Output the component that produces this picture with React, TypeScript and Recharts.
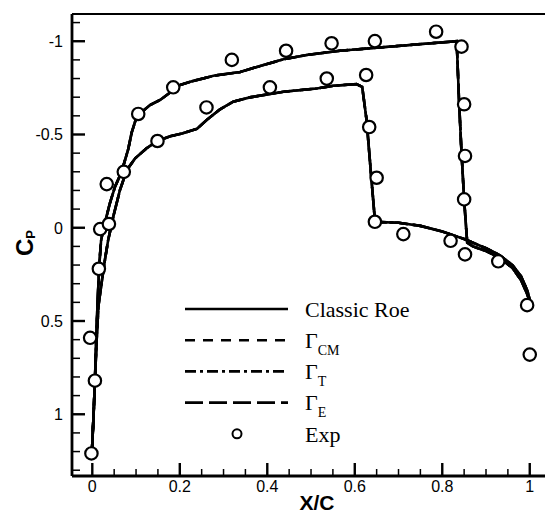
import React from "react";
import { ComposedChart, Line, Scatter, XAxis, YAxis, Legend, Label } from "recharts";

type Pt = { x: number; cp: number };

// upper surface, leading edge -> trailing edge
const upperSurface: Pt[] = [
  { x: -0.001, cp: 1.21 },
  { x: 0.003, cp: 1.0 },
  { x: 0.006, cp: 0.82 },
  { x: 0.009, cp: 0.6 },
  { x: 0.012, cp: 0.4 },
  { x: 0.016, cp: 0.2 },
  { x: 0.02, cp: 0.07 },
  { x: 0.025, cp: 0.01 },
  { x: 0.04, cp: -0.13 },
  { x: 0.052, cp: -0.22 },
  { x: 0.067, cp: -0.3 },
  { x: 0.082, cp: -0.42 },
  { x: 0.09, cp: -0.51 },
  { x: 0.098, cp: -0.57 },
  { x: 0.109, cp: -0.613 },
  { x: 0.132, cp: -0.658 },
  { x: 0.155, cp: -0.685 },
  { x: 0.178, cp: -0.725 },
  { x: 0.2, cp: -0.765 },
  { x: 0.224, cp: -0.783 },
  { x: 0.277, cp: -0.815 },
  { x: 0.338, cp: -0.835 },
  { x: 0.376, cp: -0.862 },
  { x: 0.437, cp: -0.903 },
  { x: 0.49, cp: -0.926 },
  { x: 0.566, cp: -0.949 },
  { x: 0.635, cp: -0.962 },
  { x: 0.726, cp: -0.98 },
  { x: 0.833, cp: -1.0 },
  { x: 0.838, cp: -0.7 },
  { x: 0.843, cp: -0.45 },
  { x: 0.85, cp: -0.15 },
  { x: 0.857, cp: 0.08 },
  { x: 0.87, cp: 0.1 },
  { x: 0.9, cp: 0.125 },
  { x: 0.93, cp: 0.158 },
  { x: 0.96, cp: 0.215 },
  { x: 0.98, cp: 0.28 },
  { x: 0.995, cp: 0.36 },
  { x: 1.0, cp: 0.4 },
];

// lower surface, leading edge -> trailing edge
const lowerSurface: Pt[] = [
  { x: -0.001, cp: 1.21 },
  { x: 0.003, cp: 1.0 },
  { x: 0.006, cp: 0.82 },
  { x: 0.01, cp: 0.6 },
  { x: 0.014, cp: 0.42 },
  { x: 0.021, cp: 0.3 },
  { x: 0.029, cp: 0.17 },
  { x: 0.036, cp: 0.07 },
  { x: 0.048, cp: -0.06 },
  { x: 0.063, cp: -0.2 },
  { x: 0.079, cp: -0.31 },
  { x: 0.098, cp: -0.372 },
  { x: 0.124, cp: -0.426 },
  { x: 0.149, cp: -0.465 },
  { x: 0.178, cp: -0.49 },
  { x: 0.205, cp: -0.505 },
  { x: 0.239, cp: -0.53 },
  { x: 0.265, cp: -0.585 },
  { x: 0.292, cp: -0.635 },
  { x: 0.322, cp: -0.676 },
  { x: 0.36, cp: -0.699 },
  { x: 0.437, cp: -0.729 },
  { x: 0.513, cp: -0.747 },
  { x: 0.551, cp: -0.761 },
  { x: 0.604, cp: -0.77 },
  { x: 0.617, cp: -0.755 },
  { x: 0.627, cp: -0.577 },
  { x: 0.636, cp: -0.32 },
  { x: 0.646, cp: -0.04 },
  { x: 0.66, cp: -0.03 },
  { x: 0.7, cp: -0.027 },
  { x: 0.75, cp: -0.01 },
  { x: 0.8, cp: 0.02 },
  { x: 0.85, cp: 0.06 },
  { x: 0.9, cp: 0.11 },
  { x: 0.93, cp: 0.145 },
  { x: 0.96, cp: 0.2 },
  { x: 0.98, cp: 0.26 },
  { x: 0.995, cp: 0.34 },
  { x: 1.0, cp: 0.39 },
];

const experiment: Pt[] = [
  { x: -0.002, cp: 1.21 },
  { x: 0.006, cp: 0.82 },
  { x: -0.005, cp: 0.59 },
  { x: 0.015, cp: 0.22 },
  { x: 0.018, cp: 0.007 },
  { x: 0.038, cp: -0.02 },
  { x: 0.033, cp: -0.234 },
  { x: 0.072, cp: -0.3 },
  { x: 0.105, cp: -0.61 },
  { x: 0.149, cp: -0.465 },
  { x: 0.185, cp: -0.753 },
  { x: 0.261, cp: -0.645 },
  { x: 0.319, cp: -0.9 },
  { x: 0.406, cp: -0.753 },
  { x: 0.443, cp: -0.949 },
  { x: 0.536, cp: -0.8 },
  { x: 0.547, cp: -0.989 },
  { x: 0.626, cp: -0.819 },
  { x: 0.646, cp: -1.001 },
  { x: 0.633, cp: -0.54 },
  { x: 0.65, cp: -0.268 },
  { x: 0.646, cp: -0.032 },
  { x: 0.711, cp: 0.034 },
  { x: 0.786, cp: -1.051 },
  { x: 0.819, cp: 0.07 },
  { x: 0.844, cp: -0.971 },
  { x: 0.85, cp: -0.662 },
  { x: 0.852, cp: -0.385 },
  { x: 0.85, cp: -0.152 },
  { x: 0.852, cp: 0.143 },
  { x: 0.928, cp: 0.18 },
  { x: 0.994, cp: 0.415 },
  { x: 1.0, cp: 0.68 },
];

const xMajorTicks = [0, 0.2, 0.4, 0.6, 0.8, 1];
const xMinorTicks = [0.05, 0.1, 0.15, 0.25, 0.3, 0.35, 0.45, 0.5, 0.55, 0.65, 0.7, 0.75, 0.85, 0.9, 0.95];
const yMajorTicks = [-1, -0.5, 0, 0.5, 1];
const yMinorTicks = [
  -1.1, -0.9, -0.8, -0.7, -0.6, -0.4, -0.3, -0.2, -0.1, 0.1, 0.2, 0.3, 0.4, 0.6, 0.7, 0.8, 0.9, 1.1, 1.2, 1.3,
];

const schemes = [
  { key: "roe", name: "Classic Roe", sub: "", dash: undefined as string | undefined },
  { key: "cm", name: "\u0393", sub: "CM", dash: "10 8" },
  { key: "t", name: "\u0393", sub: "T", dash: "11 4 3 4" },
  { key: "e", name: "\u0393", sub: "E", dash: "18 6" },
];
const expLabel = "Exp";

const W = 575;
const H = 521;
const LEFT = 72;
const TOP = 14;
const BOTTOM = 476;
const SANS = "Liberation Sans, Arial, sans-serif";
const SERIF = "Liberation Serif, Times New Roman, serif";

function YTick(props: any) {
  const { y, payload } = props;
  const major = yMajorTicks.includes(payload.value);
  return (
    <g>
      <line x1={LEFT} x2={LEFT + (major ? 13 : 8)} y1={y} y2={y} stroke="#000" strokeWidth={major ? 2.4 : 1.5} />
      {major && (
        <text x={LEFT - 9} y={y + 6} textAnchor="end" fill="#000" style={{ fontSize: 16, fontFamily: SANS }}>
          {String(payload.value)}
        </text>
      )}
    </g>
  );
}

function XTick(props: any) {
  const { x, payload } = props;
  const major = xMajorTicks.includes(payload.value);
  return (
    <g>
      <line x1={x} x2={x} y1={BOTTOM} y2={BOTTOM - (major ? 13 : 7)} stroke="#000" strokeWidth={major ? 2.4 : 1.5} />
      {major && (
        <text x={x} y={BOTTOM + 16} textAnchor="middle" fill="#000" style={{ fontSize: 16, fontFamily: SANS }}>
          {String(payload.value)}
        </text>
      )}
    </g>
  );
}

function SchemeLegend() {
  const x1 = 185;
  const x2 = 288;
  const tx = 305;
  const rowY = (i: number) => 309 + i * 31.2;
  return (
    <svg width={545} height={521} style={{ display: "block" }}>
      {schemes.map((s, i) => (
        <g key={s.key}>
          <line x1={x1} x2={x2} y1={rowY(i)} y2={rowY(i)} stroke="#000" strokeWidth={2.6} strokeDasharray={s.dash} />
          <text x={tx} y={rowY(i) + 7.5} fill="#000" style={{ fontSize: 22, fontFamily: SERIF }}>
            {s.name}
            {s.sub && (
              <tspan dy={7} style={{ fontSize: 14 }}>
                {s.sub}
              </tspan>
            )}
          </text>
        </g>
      ))}
      <circle cx={237} cy={rowY(4)} r={4.5} fill="#fff" stroke="#000" strokeWidth={2} />
      <text x={tx} y={rowY(4) + 8} fill="#000" style={{ fontSize: 22, fontFamily: SERIF }}>
        {expLabel}
      </text>
    </svg>
  );
}

export default function App() {
  return (
    <div style={{ position: "absolute", left: 0, top: 0, width: 545, height: 521, overflow: "hidden", background: "#fff" }}>
      <ComposedChart width={W} height={H} margin={{ top: TOP - 2, right: 19, bottom: H - BOTTOM - 30, left: 12 }}>
        <XAxis
          xAxisId="top"
          orientation="top"
          type="number"
          dataKey="x"
          domain={[-0.0464, 1.06]}
          allowDataOverflow
          height={2}
          tick={false}
          tickLine={false}
          axisLine={{ stroke: "#000", strokeWidth: 2 }}
        />
        <XAxis
          type="number"
          dataKey="x"
          domain={[-0.0464, 1.06]}
          allowDataOverflow
          height={30}
          ticks={[...xMajorTicks, ...xMinorTicks]}
          interval={0}
          tick={<XTick />}
          tickLine={false}
          axisLine={{ stroke: "#000", strokeWidth: 2.8 }}
        >
          <Label
            content={() => (
              <text x={317} y={510} textAnchor="middle" fill="#000" style={{ fontSize: 21, fontWeight: "bold", fontFamily: SANS }}>
                X/C
              </text>
            )}
          />
        </XAxis>
        <YAxis
          type="number"
          dataKey="cp"
          domain={[-1.146, 1.331]}
          reversed
          allowDataOverflow
          width={LEFT - 12}
          ticks={[...yMajorTicks, ...yMinorTicks]}
          interval={0}
          tick={<YTick />}
          tickLine={false}
          axisLine={{ stroke: "#000", strokeWidth: 2.8 }}
        >
          <Label
            content={() => (
              <text
                transform="translate(33,243) rotate(-90)"
                textAnchor="middle"
                fill="#000"
                style={{ fontSize: 24, fontWeight: "bold", fontFamily: SANS }}
              >
                C
                <tspan dy={2} style={{ fontSize: 13 }}>
                  P
                </tspan>
              </text>
            )}
          />
        </YAxis>
        <Legend
          layout="horizontal"
          verticalAlign="middle"
          align="center"
          content={<SchemeLegend />}
          wrapperStyle={{ left: 0, top: 0, width: 545, height: 521, pointerEvents: "none" }}
        />
        {schemes.map((s) => (
          <Line
            key={`${s.key}-upper`}
            data={upperSurface}
            dataKey="cp"
            type="linear"
            stroke="#000"
            strokeWidth={2.6}
            strokeDasharray={s.dash}
            dot={false}
            activeDot={false}
            isAnimationActive={false}
            legendType="none"
          />
        ))}
        {schemes.map((s) => (
          <Line
            key={`${s.key}-lower`}
            data={lowerSurface}
            dataKey="cp"
            type="linear"
            stroke="#000"
            strokeWidth={2.6}
            strokeDasharray={s.dash}
            dot={false}
            activeDot={false}
            isAnimationActive={false}
            legendType="none"
          />
        ))}
        <Scatter
          data={experiment}
          dataKey="cp"
          isAnimationActive={false}
          shape={(p: any) => <circle cx={p.cx} cy={p.cy} r={6.2} fill="#fff" stroke="#000" strokeWidth={2.2} />}
        />
      </ComposedChart>
    </div>
  );
}
